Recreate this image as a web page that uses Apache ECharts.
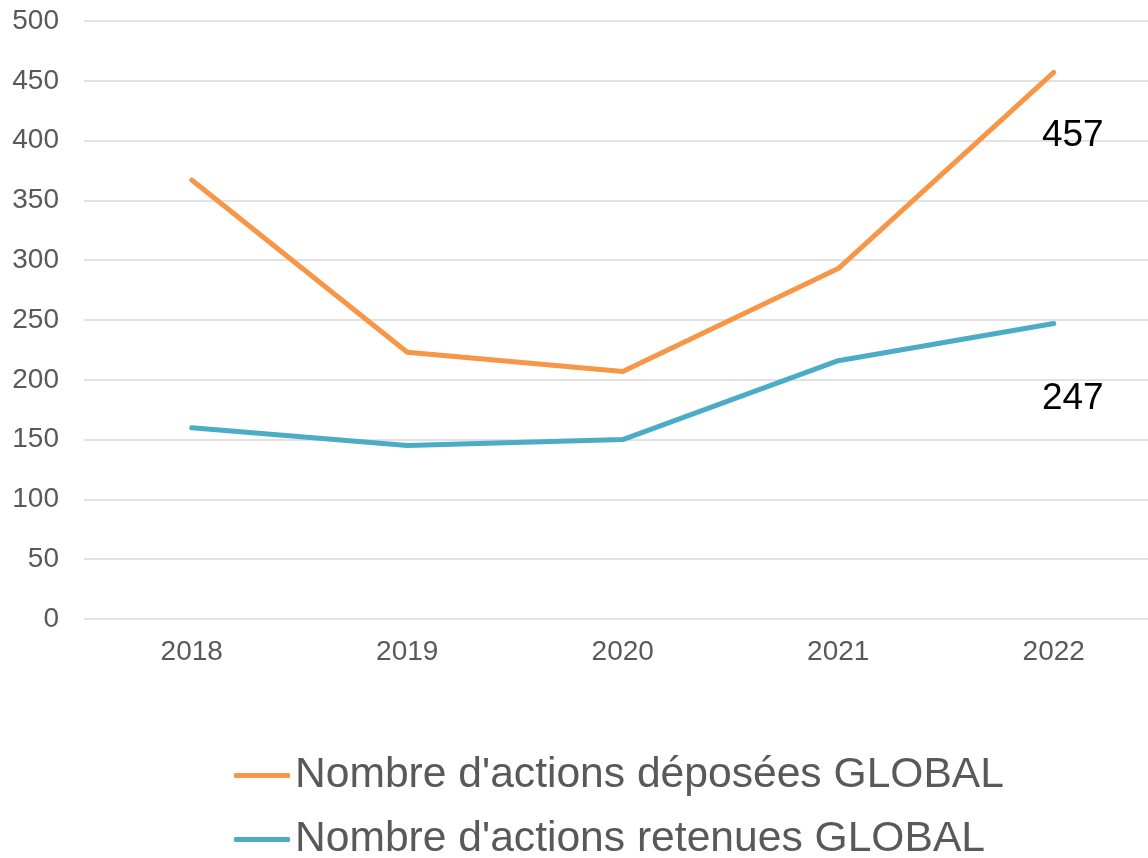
<!DOCTYPE html>
<html>
<head>
<meta charset="utf-8">
<script src="https://cdn.jsdelivr.net/npm/echarts@6/dist/echarts.min.js"></script>
<style>html,body{margin:0;padding:0;background:#fff}#c{width:1148px;height:858px}</style>
</head>
<body>
<div id="c"></div>
<script>
var categories = ['2018', '2019', '2020', '2021', '2022'];
var deposees = [367, 223, 207, 293, 457];
var retenues = [160, 145, 150, 216, 247];
var seriesNames = ["Nombre d'actions déposées GLOBAL", "Nombre d'actions retenues GLOBAL"];
var colors = ['#F79646', '#4BACC6'];

function withLastLabel(arr, offsetY) {
  return arr.map(function (v, i) {
    if (i === arr.length - 1) {
      return { value: v, label: { show: true, position: 'bottom', offset: [19, offsetY], opacity: 1 } };
    }
    return v;
  });
}

var chart = echarts.init(document.getElementById('c'));
var font = 'Liberation Sans, Arial, sans-serif';
function legendFor(i, top) {
  return {
    left: 229,
    top: top,
    itemWidth: 56,
    itemHeight: 5,
    icon: 'roundRect',
    itemStyle: { color: colors[i], opacity: 1 },
    textStyle: { color: '#595959', fontSize: 42.6, fontFamily: font },
    data: [{ name: seriesNames[i], itemStyle: { color: colors[i], opacity: 1 } }]
  };
}
chart.setOption({
  animation: false,
  textStyle: { fontFamily: font },
  grid: { left: 84, top: 21, width: 1077.5, height: 598, containLabel: false, outerBoundsMode: 'none' },
  xAxis: {
    type: 'category',
    data: categories,
    boundaryGap: true,
    axisLine: { show: false },
    axisTick: { show: false },
    axisLabel: { color: '#595959', fontSize: 28, margin: 19, fontFamily: font }
  },
  yAxis: {
    type: 'value',
    min: 0, max: 500, interval: 50,
    axisLine: { show: false },
    axisTick: { show: false },
    axisLabel: { color: '#595959', fontSize: 28, margin: 25, fontFamily: font },
    splitLine: { lineStyle: { color: '#D9D9D9', width: 1.5 } }
  },
  legend: [legendFor(0, 749), legendFor(1, 813)],
  series: [
    {
      name: seriesNames[0],
      type: 'line',
      data: withLastLabel(deposees, 39),
      symbol: 'circle',
      symbolSize: 1,
      showSymbol: true,
      lineStyle: { color: colors[0], width: 5, cap: 'round', join: 'round' },
      itemStyle: { color: colors[0], opacity: 0 },
      label: { color: '#000', fontSize: 37, fontFamily: font, opacity: 1 }
    },
    {
      name: seriesNames[1],
      type: 'line',
      data: withLastLabel(retenues, 51),
      symbol: 'circle',
      symbolSize: 1,
      showSymbol: true,
      lineStyle: { color: colors[1], width: 5, cap: 'round', join: 'round' },
      itemStyle: { color: colors[1], opacity: 0 },
      label: { color: '#000', fontSize: 37, fontFamily: font, opacity: 1 }
    }
  ]
});
</script>
</body>
</html>
